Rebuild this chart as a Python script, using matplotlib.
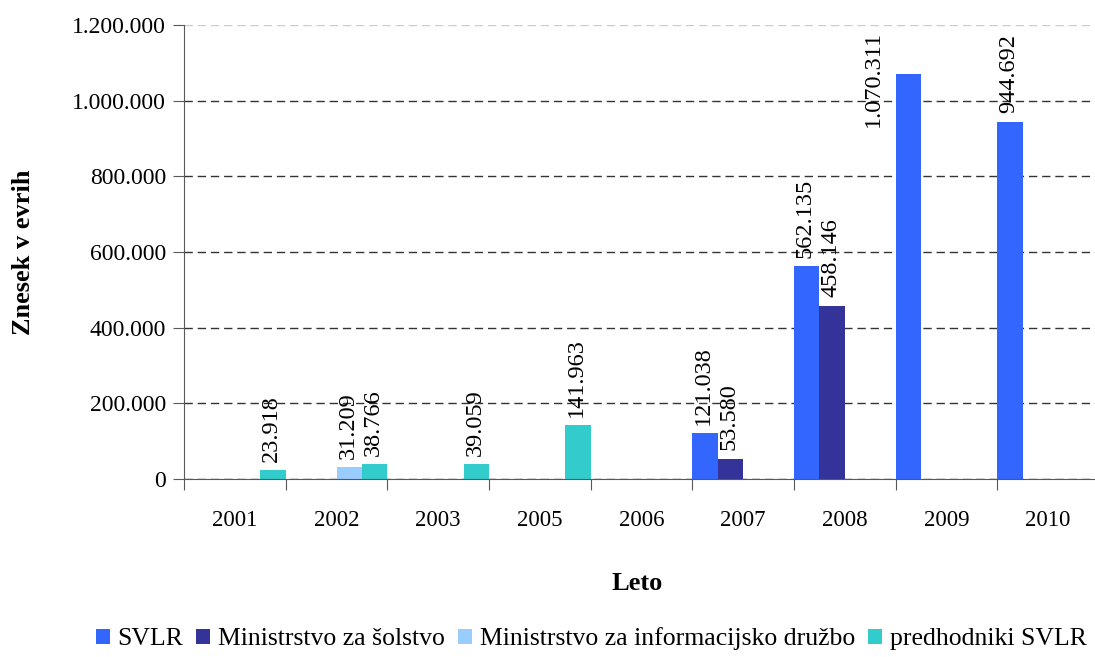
import numpy as np
import matplotlib
matplotlib.use("Agg")
import matplotlib.pyplot as plt
from matplotlib.ticker import FuncFormatter, FixedLocator

plt.rcParams["font.family"] = ["Liberation Serif", "DejaVu Serif"]
plt.rcParams["font.size"] = 16

years = ["2001", "2002", "2003", "2005", "2006", "2007", "2008", "2009", "2010"]
series_names = ["SVLR", "Ministrstvo za šolstvo",
                "Ministrstvo za informacijsko družbo", "predhodniki SVLR"]
svlr      = [0, 0, 0, 0, 0, 121038, 562135, 1070311, 944692]
solstvo   = [0, 0, 0, 0, 0, 53580, 458146, 0, 0]
info_druz = [0, 31209, 0, 0, 0, 0, 0, 0, 0]
predhod   = [23918, 38766, 39059, 141963, 0, 0, 0, 0, 0]
colors = ["#3366FF", "#333399", "#99CCFF", "#33CCCC"]

W, H = 1095, 657
fig = plt.figure(figsize=(W / 100, H / 100), dpi=100)
ax = fig.add_axes([184 / W, 1 - 479 / H, 915 / W, 454 / H])


def fmt(v):
    return f"{int(round(v)):,}".replace(",", ".")


x = np.arange(len(years))
bw = 0.25
labels = []
for j, (name, vals, col) in enumerate(zip(series_names,
                                          [svlr, solstvo, info_druz, predhod],
                                          colors)):
    ax.bar(x + j * bw, vals, width=bw, align="edge", color=col,
           label=name, zorder=3)
    for xi, v in zip(x, vals):
        if v > 0:
            t = ax.annotate(fmt(v), xy=(xi + (j + 0.5) * bw, v),
                            xytext=(-1, 6), textcoords="offset points",
                            rotation=90, ha="center", va="bottom",
                            fontsize=17.5, zorder=4)
            labels.append((t, xi + (j + 0.5) * bw))

ax.set_xlim(0, len(years))
ax.set_ylim(0, 1200000)
ax.yaxis.set_major_locator(FixedLocator(np.arange(0, 1200001, 200000)))
ax.yaxis.set_major_formatter(FuncFormatter(lambda v, p: fmt(v)))

ax.xaxis.set_major_locator(FixedLocator(np.arange(0, len(years) + 1)))
ax.xaxis.set_major_formatter(FuncFormatter(lambda v, p: ""))
ax.xaxis.set_minor_locator(FixedLocator(x + 0.5))
ax.xaxis.set_minor_formatter(FuncFormatter(lambda v, p: years[int(v)]))
ax.tick_params(axis="x", which="major", length=8, color="0.35", direction="out")
ax.tick_params(axis="x", which="minor", length=0, pad=22, labelsize=16.5)
ax.tick_params(axis="y", length=8, color="0.35", pad=5, labelsize=17)

ax.grid(axis="y", color="0.2", ls=(0, (6, 3.5)), lw=1.0, zorder=1)
ax.set_axisbelow(True)
glines = ax.get_ygridlines()
glines[-1].set_color("0.8")

for s in ["top", "right"]:
    ax.spines[s].set_visible(False)
for s in ["left", "bottom"]:
    ax.spines[s].set_color("0.35")
    ax.spines[s].set_zorder(5)

ax.set_ylabel("Znesek v evrih", fontweight="bold", fontsize=19)
ax.yaxis.set_label_coords((35 - 184) / 915, 0.5)
ax.set_xlabel("Leto", fontweight="bold", fontsize=19)
ax.xaxis.set_label_coords((637 - 184) / 915, -(572 - 479) / 454)

# labels that would run past the top of the plot are moved beside the bar
fig.canvas.draw()
for t, xc in labels:
    bb = t.get_window_extent()
    if bb.y1 > ax.bbox.y1:
        t.xy = (xc, 1200000)
        t.set_position((-25, -4))
        t.set_va("top")

fig.legend(loc="center", bbox_to_anchor=(591 / W, 1 - 639 / H), ncol=4,
           frameon=False, handlelength=0.55, handleheight=0.55,
           handletextpad=0.3, columnspacing=0.5, fontsize=18.5,
           borderaxespad=0, borderpad=0)

fig.savefig("out.png", dpi=100)
